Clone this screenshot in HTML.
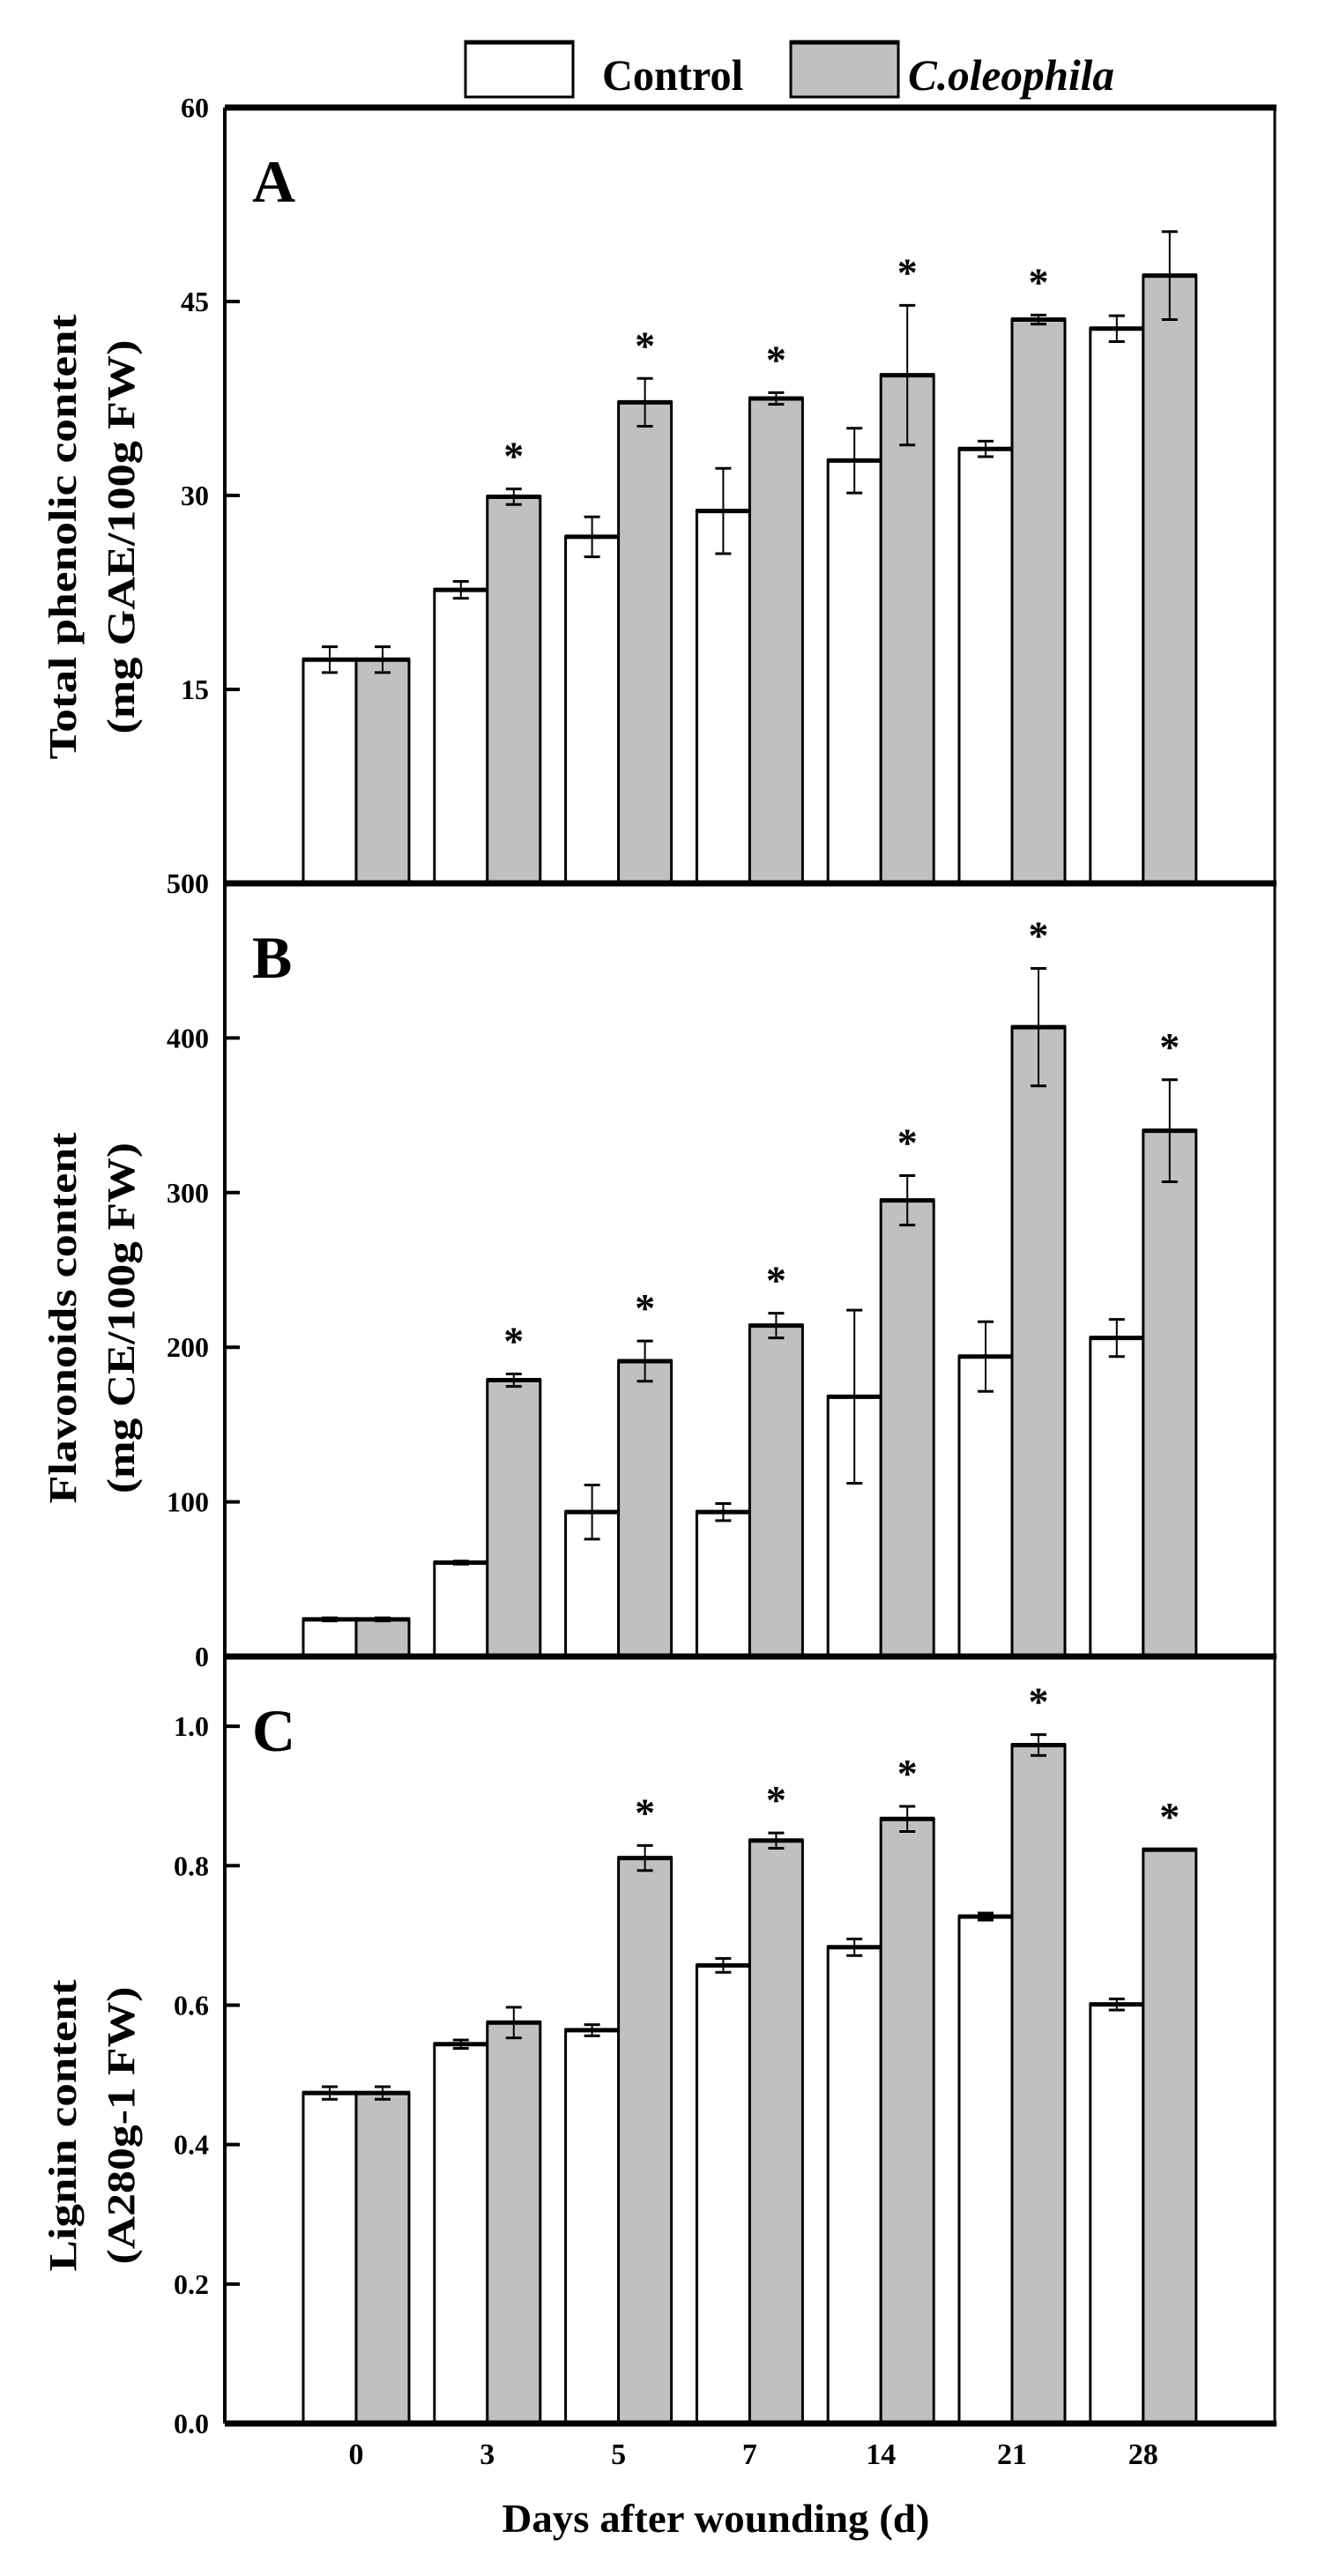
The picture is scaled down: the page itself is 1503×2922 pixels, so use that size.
<!DOCTYPE html>
<html><head><meta charset="utf-8"><style>
html,body{margin:0;padding:0;background:#fff}
svg{display:block}
text{font-family:"Liberation Serif",serif;font-weight:bold;fill:#000}
</style></head><body>
<svg id="chart" width="1503" height="2922" viewBox="0 0 1503 2922" xmlns="http://www.w3.org/2000/svg">
<g>
<rect x="528" y="47" width="122" height="63" fill="#fff" stroke="#000" stroke-width="3"/>
<line x1="528" y1="48" x2="650" y2="48" stroke="#000" stroke-width="5"/>
<text x="683" y="102" font-size="50" textLength="160" lengthAdjust="spacingAndGlyphs">Control</text>
<rect x="897" y="47" width="122" height="63" fill="#c0c0c0" stroke="#000" stroke-width="3"/>
<line x1="897" y1="48" x2="1019" y2="48" stroke="#000" stroke-width="5"/>
<text x="1030" y="102" font-size="50" font-style="italic" textLength="234" lengthAdjust="spacingAndGlyphs">C.oleophila</text>
</g>
<g id="plots"></g>
<g id="xticks"></g>
<text x="812" y="2872" font-size="46" text-anchor="middle" textLength="485" lengthAdjust="spacingAndGlyphs">Days after wounding (d)</text>
</svg>
<script>
const categories = ["0","3","5","7","14","21","28"];
// Panel A: total phenolic
const phenolControl = [17.3, 22.7, 26.8, 28.8, 32.7, 33.6, 42.9];
const phenolControlErr = [1.0, 0.65, 1.55, 3.3, 2.5, 0.6, 1.0];
const phenolTreat = [17.3, 29.9, 37.2, 37.5, 39.3, 43.6, 47.0];
const phenolTreatErr = [1.0, 0.6, 1.85, 0.45, 5.4, 0.35, 3.4];
const phenolSig = [false, true, true, true, true, true, false];
const phenolTicks = ["15","30","45","60"];
// Panel B: flavonoids
const flavControl = [24, 60.7, 93.4, 93.4, 168, 194, 206];
const flavControlErr = [1, 1, 17.5, 5.5, 56, 22.5, 12];
const flavTreat = [24, 178.7, 191, 214, 295, 407, 340];
const flavTreatErr = [1, 4, 13, 8, 16, 38, 33];
const flavSig = [false, true, true, true, true, true, true];
const flavTicks = ["0","100","200","300","400","500"];
// Panel C: lignin
const ligControl = [0.474, 0.544, 0.564, 0.657, 0.683, 0.727, 0.601];
const ligControlErr = [0.009, 0.006, 0.008, 0.01, 0.012, 0.005, 0.008];
const ligTreat = [0.474, 0.575, 0.811, 0.836, 0.867, 0.973, 0.823];
const ligTreatErr = [0.009, 0.022, 0.018, 0.011, 0.018, 0.015, 0];
const ligSig = [false, false, true, true, true, true, true];
const ligTicks = ["0.0","0.2","0.4","0.6","0.8","1.0"];

const NS = "http://www.w3.org/2000/svg";
const X0 = 255, X1 = 1446, C0 = 404, STEP = 148.8, BW = 60;
function xCenter(i){ return C0 + STEP*i; }
function mk(tag, attrs, parent){
  const e = document.createElementNS(NS, tag);
  for (const k in attrs) e.setAttribute(k, attrs[k]);
  parent.appendChild(e); return e;
}
const plots = document.getElementById("plots");

function panel(cfg){
  const g = mk("g", {}, plots);
  
  
  const y = v => cfg.bottom - (v - cfg.min) / (cfg.max - cfg.min) * (cfg.bottom - cfg.top);
  [[cfg.ctrl, cfg.ctrlErr, "#fff", -BW, "control"], [cfg.treat, cfg.treatErr, "#c0c0c0", 0, "coleophila"]].forEach(s => {
    s[0].forEach((v, i) => {
      const x = xCenter(i) + s[3], yt = y(v), yb = y(cfg.min);
      const r = mk("rect", {x:x, y:yt, width:BW, height:yb-yt, fill:s[2], stroke:"#000", "stroke-width":3}, g);
      
      
      const tl = mk("line", {x1:x-1, x2:x+BW+1, y1:yt, y2:yt, stroke:"#000", "stroke-width":5}, g);
      
      
      const e = s[1][i];
      if (e > 0) {
        const cx = x + BW/2, y1 = y(v+e), y2 = y(v-e);
        const eg = mk("g", {stroke:"#000", "stroke-width":2}, g);
        
        
        mk("line", {x1:cx, x2:cx, y1:y1, y2:y2}, eg);
        mk("line", {x1:cx-9, x2:cx+9, y1:y1, y2:y1, "stroke-width":3}, eg);
        mk("line", {x1:cx-9, x2:cx+9, y1:y2, y2:y2, "stroke-width":3}, eg);
      }
    });
  });
  cfg.sig.forEach((s, i) => {
    if (!s) return;
    const v = cfg.treat[i] + cfg.treatErr[i];
    const t = mk("text", {x:xCenter(i)+BW/2, y:y(v)-22, "font-size":46, "text-anchor":"middle", "font-weight":"normal"}, g);
    
    
    t.textContent = "*";
  });
  cfg.ticks.forEach(lbl => {
    const v = parseFloat(lbl), ty = y(v);
    const tk = mk("line", {x1:X0, x2:X0+17, y1:ty, y2:ty, stroke:"#000", "stroke-width":4}, g);
    
    
    const t = mk("text", {x:237, y:ty+11, "font-size":32, "text-anchor":"end"}, g);
    
    
    t.textContent = lbl;
  });
  const f = mk("g", {stroke:"#000"}, g);
  
  
  mk("line", {x1:X0, x2:X0, y1:cfg.top, y2:cfg.bottom, "stroke-width":4}, f);
  mk("line", {x1:X1, x2:X1, y1:cfg.top, y2:cfg.bottom, "stroke-width":3}, f);
  mk("line", {x1:X0, x2:X1+2, y1:cfg.bottom, y2:cfg.bottom, "stroke-width":7}, f);
  if (cfg.topThick) mk("line", {x1:X0, x2:X1+2, y1:cfg.top, y2:cfg.top, "stroke-width":7}, f);
  const L = mk("text", {x:286, y:cfg.top+107, "font-size":68}, g);
  
  
  L.textContent = cfg.letter;
  cfg.title.forEach((line, k) => {
    const cx = k === 0 ? 86 : 152;
    const t = mk("text", {x:0, y:0, "font-size":44, "text-anchor":"middle", transform:"translate(" + cx + "," + cfg.titleY + ") rotate(-90)", textLength:cfg.titleLen[k], lengthAdjust:"spacingAndGlyphs"}, g);
    
    
    t.textContent = line;
  });
}

panel({name:"panel-a-total-phenolic", letter:"A", top:122, bottom:1002, min:0, max:60,
  ctrl:phenolControl, ctrlErr:phenolControlErr, treat:phenolTreat, treatErr:phenolTreatErr, sig:phenolSig,
  ticks:phenolTicks, topThick:true, title:["Total phenolic content","(mg GAE/100g FW)"], titleY:609, titleLen:[505,447]});
panel({name:"panel-b-flavonoids", letter:"B", top:1002, bottom:1879, min:0, max:500,
  ctrl:flavControl, ctrlErr:flavControlErr, treat:flavTreat, treatErr:flavTreatErr, sig:flavSig,
  ticks:flavTicks, title:["Flavonoids content","(mg CE/100g FW)"], titleY:1495, titleLen:[421,398]});
panel({name:"panel-c-lignin", letter:"C", top:1879, bottom:2749, min:0, max:1.1,
  ctrl:ligControl, ctrlErr:ligControlErr, treat:ligTreat, treatErr:ligTreatErr, sig:ligSig,
  ticks:ligTicks, title:["Lignin content","(A280g-1 FW)"], titleY:2411, titleLen:[331,315]});

const xt = document.getElementById("xticks");
categories.forEach((c, i) => {
  const t = mk("text", {x:xCenter(i), y:2795, "font-size":34, "text-anchor":"middle"}, xt);
  
  
  t.textContent = c;
});
</script>
</body></html>
